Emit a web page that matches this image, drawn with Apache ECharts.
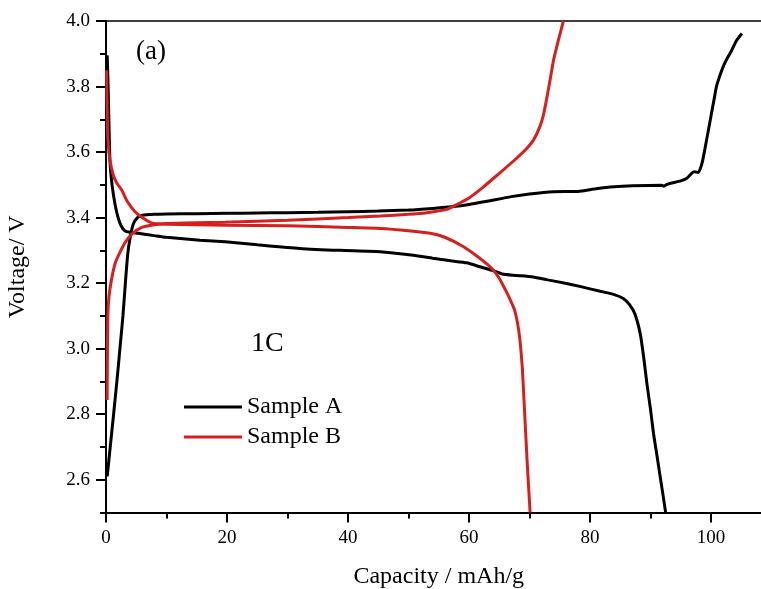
<!DOCTYPE html>
<html><head><meta charset="utf-8">
<script src="https://cdn.jsdelivr.net/npm/echarts@6/dist/echarts.min.js"></script>
<style>html,body{margin:0;padding:0;background:#fff}#c{width:761px;height:589px}</style>
</head><body><div id="c"></div>
<script>
const xMajorTicks = [0, 20, 40, 60, 80, 100];
const xMinorTicks = [10, 30, 50, 70, 90];
const yMajorTicks = [2.6, 2.8, 3.0, 3.2, 3.4, 3.6, 3.8, 4.0];
const yMinorTicks = [2.5, 2.7, 2.9, 3.1, 3.3, 3.5, 3.7, 3.9];
const seriesNames = ['Sample A', 'Sample B'];

const sampleACharge = [
 [0.2,2.61],[0.7,2.70],[1.2,2.79],[1.8,2.90],[2.3,3.00],[2.8,3.10],[3.2,3.20],[3.6,3.29],[4.0,3.34],[4.5,3.38],
 [5.2,3.40],[6.0,3.407],[8,3.41],[10,3.411],[15,3.412],[20,3.413],[25,3.414],[30,3.415],[35,3.416],[40,3.418],
 [45,3.42],[50,3.423],[54,3.428],[57,3.433],[60,3.44],[63,3.45],[67,3.464],[70,3.472],[74,3.479],[78,3.48],
 [81,3.488],[84,3.494],[87,3.497],[91.8,3.499],[92.2,3.496],[92.8,3.502],[95,3.512],[96,3.52],[96.8,3.535],[97.2,3.54],[97.9,3.538],
 [98.5,3.565],[99,3.61],[99.5,3.66],[100,3.71],[100.5,3.76],[100.9,3.80],[101.5,3.835],[102,3.86],[102.5,3.88],
 [103.4,3.91],[104.2,3.94],[105.1,3.962]
];
const sampleADischarge = [
 [0.2,3.895],[0.35,3.80],[0.5,3.68],[0.66,3.57],[1.0,3.50],[1.5,3.44],[2.0,3.40],[2.5,3.375],[3.1,3.36],[4.0,3.355],
 [5.3,3.352],[8,3.345],[10,3.34],[15.5,3.331],[19.7,3.326],[25,3.317],[32,3.306],[38.7,3.30],[45.3,3.296],[50.8,3.285],
 [54,3.276],[57,3.268],[59.6,3.262],[61.8,3.25],[64,3.238],[65.5,3.228],[67.3,3.224],[70.6,3.219],[73,3.21],[76.1,3.199],
 [78.3,3.19],[81.7,3.175],[84,3.165],[85.5,3.153],[86.5,3.135],[87.4,3.107],[88.3,3.046],[88.9,2.97],[89.4,2.894],
 [90,2.815],[90.5,2.741],[91.1,2.67],[91.6,2.609],[92.1,2.55],[92.5,2.50]
];
const sampleBCharge = [
 [0.2,2.843],[0.22,2.95],[0.3,3.10],[0.5,3.16],[0.9,3.21],[1.5,3.26],[2.2,3.29],[3.2,3.325],[4.3,3.35],[5.9,3.37],
 [8,3.378],[10,3.382],[19.7,3.386],[30,3.392],[40,3.40],[45.3,3.405],[50,3.41],[53,3.415],[56.3,3.425],[58,3.44],
 [60,3.46],[62.4,3.494],[65,3.535],[67.5,3.575],[69.5,3.61],[70.7,3.638],[71.7,3.677],[72.3,3.713],[72.8,3.759],
 [73.4,3.82],[74,3.883],[74.8,3.943],[75.6,4.0]
];
const sampleBDischarge = [
 [0.1,3.85],[0.2,3.72],[0.35,3.63],[0.66,3.575],[1.2,3.53],[1.8,3.505],[2.6,3.484],[3.5,3.45],[4.8,3.418],[6,3.40],
 [7.5,3.384],[10,3.38],[19.7,3.377],[30,3.375],[40,3.37],[45.3,3.367],[50,3.36],[53.6,3.352],[56,3.34],[59.1,3.311],
 [61.5,3.28],[63,3.258],[64,3.24],[65,3.215],[66,3.18],[66.8,3.15],[67.5,3.12],[68.0,3.08],[68.4,3.03],[68.8,2.945],
 [69.1,2.84],[69.6,2.66],[70.1,2.50]
];

const FONT = "'Liberation Serif','Times New Roman',serif";
const BLACK = '#000000';
const RED = '#d61f1f';
const chart = echarts.init(document.getElementById('c'), null, {renderer: 'canvas'});

const lineSeries = (name, data, color) => ({
  name: name, type: 'line', data: data, showSymbol: false, symbol: 'none',
  smooth: 0.2, lineStyle: {color: color, width: 3}, itemStyle: {color: color},
  xAxisIndex: 0, yAxisIndex: 0, z: 3, animation: false
});

chart.setOption({
  animation: false,
  backgroundColor: '#ffffff',
  grid: {left: 106, top: 21, width: 665.5, height: 491.5, containLabel: false, outerBoundsMode: 'none'},
  legend: {
    orient: 'vertical', left: 184, top: 395, padding: 0, itemGap: 6,
    icon: 'rect', itemWidth: 58, itemHeight: 3,
    data: seriesNames,
    textStyle: {fontFamily: FONT, fontSize: 24, color: '#000', lineHeight: 24}
  },
  xAxis: [
    {type: 'value', min: 0, max: 110, position: 'bottom',
     name: 'Capacity / mAh/g', nameLocation: 'middle', nameGap: 52,
     nameTextStyle: {fontFamily: FONT, fontSize: 24, color: '#000'},
     axisLine: {show: true, lineStyle: {color: '#000', width: 2}},
     axisTick: {show: true, inside: false, length: 10, customValues: xMajorTicks, lineStyle: {color: '#000', width: 2}},
     axisLabel: {show: true, customValues: xMajorTicks, margin: 16, fontFamily: FONT, fontSize: 19, color: '#000'},
     splitLine: {show: false}},
    {type: 'value', min: 0, max: 110, position: 'bottom',
     axisLine: {show: false},
     axisTick: {show: true, inside: false, length: 6, customValues: xMinorTicks, lineStyle: {color: '#000', width: 2}},
     axisLabel: {show: false}, splitLine: {show: false}},
    {type: 'value', min: 0, max: 110, position: 'top',
     axisLine: {show: true, lineStyle: {color: '#000', width: 1.5}},
     axisTick: {show: false}, axisLabel: {show: false}, splitLine: {show: false}}
  ],
  yAxis: [
    {type: 'value', min: 2.5, max: 4.0, position: 'left',
     name: 'Voltage/ V', nameLocation: 'middle', nameGap: 76, nameRotate: 90,
     nameTextStyle: {fontFamily: FONT, fontSize: 24, color: '#000'},
     axisLine: {show: true, lineStyle: {color: '#000', width: 2}},
     axisTick: {show: true, inside: false, length: 10, customValues: yMajorTicks, lineStyle: {color: '#000', width: 2}},
     axisLabel: {show: true, customValues: yMajorTicks, margin: 16, fontFamily: FONT, fontSize: 19, color: '#000',
       formatter: v => Number(v).toFixed(1)},
     splitLine: {show: false}},
    {type: 'value', min: 2.5, max: 4.0, position: 'left',
     axisLine: {show: false},
     axisTick: {show: true, inside: false, length: 6, customValues: yMinorTicks, lineStyle: {color: '#000', width: 2}},
     axisLabel: {show: false}, splitLine: {show: false}}
  ],
  graphic: [
    {type: 'text', left: 136, top: 38, style: {text: '(a)', fontFamily: FONT, fontSize: 27, fill: '#000'}},
    {type: 'text', left: 251, top: 330, style: {text: '1C', fontFamily: FONT, fontSize: 28, fill: '#000'}}
  ],
  series: [
    lineSeries('Sample A', sampleACharge, BLACK),
    lineSeries('Sample A', sampleADischarge, BLACK),
    lineSeries('Sample B', sampleBCharge, RED),
    lineSeries('Sample B', sampleBDischarge, RED)
  ]
});
</script></body></html>
